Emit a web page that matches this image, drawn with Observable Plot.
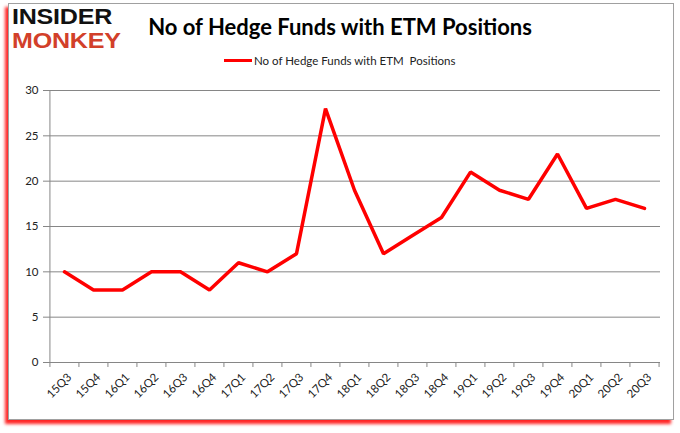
<!DOCTYPE html>
<html><head><meta charset="utf-8">
<script src="https://cdn.jsdelivr.net/npm/d3@7"></script>
<script src="https://cdn.jsdelivr.net/npm/@observablehq/plot@0.6"></script>
<style>
body{margin:0;background:#fff;}
#wrap{position:relative;width:680px;height:433px;overflow:hidden;font-family:Lato,"Open Sans",sans-serif;background:#fff;}
#frame{position:absolute;left:8px;top:3px;width:664px;height:415px;border:1px solid #a0a0a0;box-shadow:-3px 4px 3px rgba(255,0,0,0.85);background:#fff;}
.logo{position:absolute;left:12px;font-family:"Liberation Sans",Arial,sans-serif;font-weight:bold;font-size:22px;line-height:24px;height:24px;transform-origin:0 0;transform:scaleX(1.14);letter-spacing:-0.2px;}
#l1{top:5px;color:#111;}
#l2{top:29px;color:#d2402a;}
#title{position:absolute;left:0;width:680px;top:13px;text-align:center;font-weight:bold;font-size:22px;color:#000;}
#legend{position:absolute;left:224px;top:54px;font-size:11.5px;color:#222;display:flex;align-items:center;}
#legend .sw{width:28px;height:3px;background:#ff0000;margin-right:2px;}
#chart{position:absolute;left:0;top:78px;}
</style></head>
<body>
<div id="wrap">
  <div id="frame"></div>
  <div class="logo" id="l1">INSIDER</div>
  <div class="logo" id="l2">MONKEY</div>
  <div id="title">No of Hedge Funds with ETM Positions</div>
  <div id="legend"><span class="sw"></span><span>No of Hedge Funds with ETM&nbsp; Positions</span></div>
  <div id="chart"></div>
</div>
<script>
const quarters = ["15Q3","15Q4","16Q1","16Q2","16Q3","16Q4","17Q1","17Q2","17Q3","17Q4","18Q1","18Q2","18Q3","18Q4","19Q1","19Q2","19Q3","19Q4","20Q1","20Q2","20Q3"];
const funds = [10,8,8,10,10,8,11,10,12,28,19,12,14,16,21,19,18,23,17,18,17];
const yTicks = [0,5,10,15,20,25,30];

const data = quarters.map((q,i)=>({q, v: funds[i]}));
const W = 680, mL = 48, mR = 20;
const step = (W - mL - mR) / quarters.length;
const grid = "#868686";

const chart = Plot.plot({
  width: W, height: 355,
  marginTop: 12, marginLeft: mL, marginRight: mR, marginBottom: 71,
  style: {fontFamily: "Lato, 'Open Sans', sans-serif", fontSize: "11px", color: "#222", background: "transparent"},
  x: {type: "point", domain: quarters, padding: 0.5, label: null, axis: null},
  y: {domain: [0, 30], label: null, axis: null},
  marks: [
    Plot.gridY(yTicks, {stroke: grid, strokeOpacity: 1}),
    Plot.axisY(yTicks, {tickSize: 5, tickFormat: () => "", stroke: grid, label: null}),
    Plot.axisY(yTicks, {tickSize: 0, tickPadding: 10, fontSize: 11.5, fill: "#222", label: null}),
    Plot.ruleX([quarters[0]], {x: d => d, y1: 0, y2: 30, dx: -step/2, stroke: grid}),
    Plot.ruleY([0], {stroke: grid}),
    Plot.ruleX(quarters, {x: d => d, y1: 0, y2: -0.55, dx: -step/2, stroke: grid}),
    Plot.ruleX([quarters[quarters.length-1]], {x: d => d, y1: 0, y2: -0.55, dx: step/2, stroke: grid}),
    Plot.axisX(quarters, {tickSize: 0, tickRotate: -45, tickPadding: 13, fontSize: 11.5, fill: "#222", label: null, dx: 5}),
    Plot.line(data, {x: "q", y: "v", stroke: "#ff0000", strokeWidth: 3.5, strokeLinejoin: "miter"})
  ]
});
document.getElementById("chart").appendChild(chart);
</script>
</body></html>
